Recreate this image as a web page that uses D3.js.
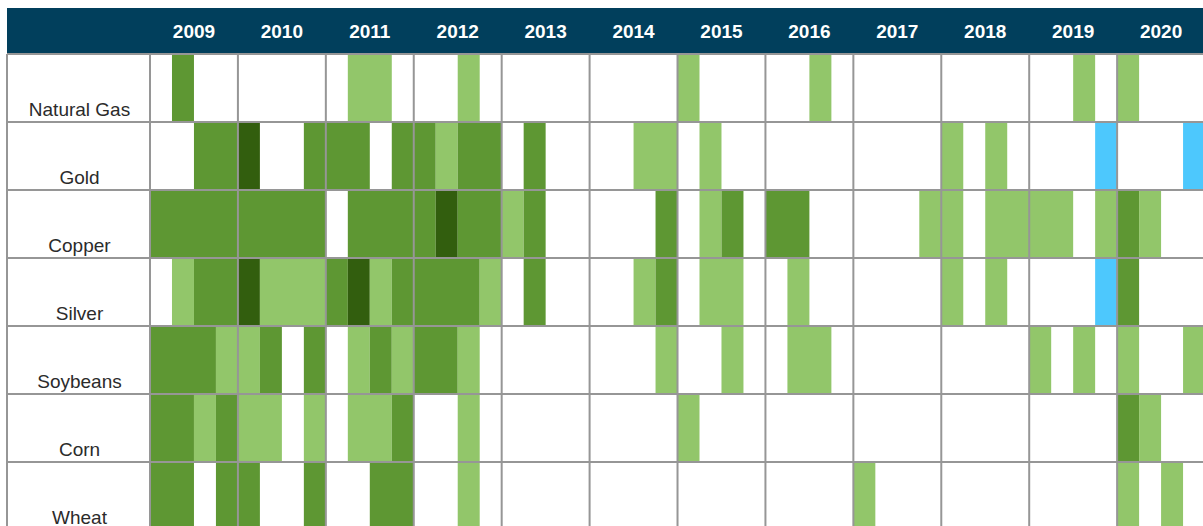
<!DOCTYPE html>
<html>
<head>
<meta charset="utf-8">
<script src="https://cdn.jsdelivr.net/npm/d3@7"></script>
<style>
  body { margin: 0; background: #fff; overflow: hidden; }
  .year-label { font-family: Arial, "Liberation Sans", sans-serif; font-weight: bold; font-size: 19px; fill: #fff; }
  .row-label { font-family: Arial, "Liberation Sans", sans-serif; font-size: 19px; fill: #2b2b2b; }
</style>
</head>
<body>
<div id="chart"></div>
<script>
/**
 * CONSTANTS AND GLOBALS
 **/
const
  width = 1203, height = 526,
  left = 7, labelRight = 150,
  headerTop = 8, headerBottom = 54,
  yearWidth = 87.92, rowHeight = 68;

// 0 = none, 1 = light, 2 = medium, 3 = dark, 4 = blue
const levelColors = ["#ffffff", "#92c66a", "#5e9733", "#325e0e", "#4dc8fd"];

const years = [2009, 2010, 2011, 2012, 2013, 2014, 2015, 2016, 2017, 2018, 2019, 2020];
const commodities = ["Natural Gas", "Gold", "Copper", "Silver", "Soybeans", "Corn", "Wheat"];

// quarterly values, 2009 Q1 ... 2020 Q4 (4 per year)
const naturalGas = [0,2,0,0, 0,0,0,0, 0,1,1,0, 0,0,1,0, 0,0,0,0, 0,0,0,0, 1,0,0,0, 0,0,1,0, 0,0,0,0, 0,0,0,0, 0,0,1,0, 1,0,0,0];
const gold       = [0,0,2,2, 3,0,0,2, 2,2,0,2, 2,1,2,2, 0,2,0,0, 0,0,1,1, 0,1,0,0, 0,0,0,0, 0,0,0,0, 1,0,1,0, 0,0,0,4, 0,0,0,4];
const copper     = [2,2,2,2, 2,2,2,2, 0,2,2,2, 2,3,2,2, 1,2,0,0, 0,0,0,2, 0,1,2,0, 2,2,0,0, 0,0,0,1, 1,0,1,1, 1,1,0,1, 2,1,0,0];
const silver     = [0,1,2,2, 3,1,1,1, 2,3,1,2, 2,2,2,1, 0,2,0,0, 0,0,1,2, 0,1,1,0, 0,1,0,0, 0,0,0,0, 1,0,1,0, 0,0,0,4, 2,0,0,0];
const soybeans   = [2,2,2,1, 1,2,0,2, 0,1,2,1, 2,2,1,0, 0,0,0,0, 0,0,0,1, 0,0,1,0, 0,1,1,0, 0,0,0,0, 0,0,0,0, 1,0,1,0, 1,0,0,1];
const corn       = [2,2,1,2, 1,1,0,1, 0,1,1,2, 0,0,1,0, 0,0,0,0, 0,0,0,0, 1,0,0,0, 0,0,0,0, 0,0,0,0, 0,0,0,0, 0,0,0,0, 2,1,0,0];
const wheat      = [2,2,0,2, 2,0,0,2, 0,0,2,2, 0,0,1,0, 0,0,0,0, 0,0,0,0, 0,0,0,0, 0,0,0,0, 1,0,0,0, 0,0,0,0, 0,0,0,0, 1,0,1,0];

const series = [naturalGas, gold, copper, silver, soybeans, corn, wheat];

/**
 * SCALES
 **/
const xScale = d3.scaleLinear()
  .domain([years[0], years[years.length - 1] + 1])
  .range([labelRight, labelRight + years.length * yearWidth]);

const yScale = d3.scaleBand()
  .domain(commodities)
  .range([headerBottom, headerBottom + commodities.length * rowHeight]);

const colorScale = d3.scaleOrdinal()
  .domain(d3.range(levelColors.length))
  .range(levelColors);

// group consecutive quarters of the same level into one run, so neighbours merge
const runs = [];
commodities.forEach((name, i) => {
  const vals = series[i];
  let j = 0;
  while (j < vals.length) {
    let k = j;
    while (k + 1 < vals.length && vals[k + 1] === vals[j]) k++;
    if (vals[j] > 0) runs.push({ name, t0: years[0] + j / 4, t1: years[0] + (k + 1) / 4, level: vals[j] });
    j = k + 1;
  }
});

const svg = d3.select("#chart")
  .append("svg")
  .attr("width", width)
  .attr("height", height);

// header band
svg.append("rect")
  .attr("x", left)
  .attr("y", headerTop)
  .attr("width", width - left + 10)
  .attr("height", headerBottom - headerTop)
  .attr("fill", "#013f5c");

svg.selectAll("text.year-label")
  .data(years)
  .join("text")
  .attr("class", "year-label")
  .attr("x", d => xScale(d + 0.5))
  .attr("y", 38)
  .attr("text-anchor", "middle")
  .text(d => d);

// coloured quarter runs
svg.selectAll("rect.cell")
  .data(runs)
  .join("rect")
  .attr("class", "cell")
  .attr("x", d => xScale(d.t0))
  .attr("y", d => yScale(d.name))
  .attr("width", d => xScale(d.t1) - xScale(d.t0))
  .attr("height", yScale.bandwidth())
  .attr("fill", d => colorScale(d.level));

// row labels
svg.selectAll("text.row-label")
  .data(commodities)
  .join("text")
  .attr("class", "row-label")
  .attr("x", (left + labelRight) / 2 + 1)
  .attr("y", d => yScale(d) + yScale.bandwidth() - 6)
  .attr("text-anchor", "middle")
  .text(d => d);

// grid lines
const grid = svg.append("g")
  .attr("stroke", "#969696")
  .attr("stroke-width", 2);

grid.selectAll("line.h")
  .data(commodities.map(d => yScale(d)).concat([yScale.range()[1]]))
  .join("line")
  .attr("class", "h")
  .attr("x1", left)
  .attr("x2", width + 10)
  .attr("y1", d => d)
  .attr("y2", d => d);

grid.selectAll("line.v")
  .data(years.map(d => xScale(d)).concat([xScale(years[years.length - 1] + 1)]))
  .join("line")
  .attr("class", "v")
  .attr("x1", d => d)
  .attr("x2", d => d)
  .attr("y1", headerBottom)
  .attr("y2", height + 10);

grid.append("line")
  .attr("x1", left)
  .attr("x2", left)
  .attr("y1", headerBottom)
  .attr("y2", height + 10);
</script>
</body>
</html>
